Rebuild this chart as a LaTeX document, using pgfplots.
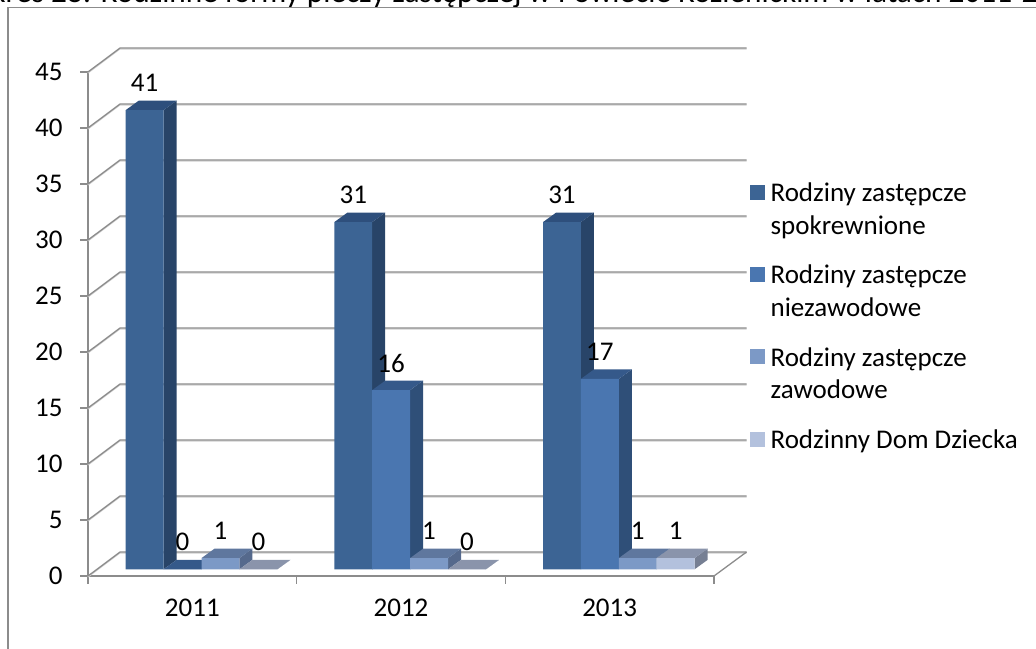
\documentclass[border=0pt]{standalone}
\usepackage{pgfplots}
\usepackage{fontspec}
\pgfplotsset{compat=1.18}
\setmainfont{Carlito}

\definecolor{gridc}{HTML}{8C8C8C}
\definecolor{gridl}{HTML}{D0D0D0}
\definecolor{fa}{HTML}{3C6494}\definecolor{sa}{HTML}{284468}\definecolor{ta}{HTML}{2E4F7C}
\definecolor{fb}{HTML}{4A76B0}\definecolor{sb}{HTML}{2F4F78}\definecolor{tb}{HTML}{35598A}
\definecolor{fc}{HTML}{7C99C6}\definecolor{sc}{HTML}{55698C}\definecolor{tc}{HTML}{5F779E}
\definecolor{fd}{HTML}{B3C1DD}\definecolor{sd}{HTML}{767F93}\definecolor{td}{HTML}{8A94AB}

% side and top face of one bar: left edge (px), value, side colour, top colour
\newcommand\faces[4]{%
  \pgfmathsetmacro\xr{#1+37.9}\pgfmathsetmacro\xrb{#1+50.9}\pgfmathsetmacro\xb{#1+13}%
  \pgfmathsetmacro\vb{#2+0.84}%
  \edef\tmp{\noexpand\addplot[forget plot,fill=#3,draw=none] coordinates {(\xr,0) (\xrb,0.84) (\xrb,\vb) (\xr,#2)};
    \noexpand\addplot[forget plot,fill=#4,draw=none] coordinates {(#1,#2) (\xb,\vb) (\xrb,\vb) (\xr,#2)};}%
  \tmp}

\pgfplotsset{
  bars/.style={ybar,bar shift=0pt,bar width=37.9,fill=#1,draw=none,
    legend image code/.code={\fill[#1] (0bp,-7bp) rectangle (15bp,8bp);},
    nodes near coords,
    every node near coord/.style={anchor=center,yshift=27bp,text=black,font=\fontsize{27bp}{29bp}\selectfont}},
}

\begin{document}
\begin{tikzpicture}[x=1bp,y=1bp]
\useasboundingbox (0,0) rectangle (1036,649);
% title cut by the page edge
\node[anchor=base west,inner sep=0,font=\fontsize{31.3bp}{34bp}\selectfont] at (-50,646.3)
  {Wykres 28: Rodzinne formy pieczy zastępczej w Powiecie Kozienickim w latach 2011-2013};
% chart frame
\draw[gridc,line width=1.3bp] (8,0) -- (8,641.5) -- (1036,641.5);

% walls and axes
\begin{axis}[
  at={(88bp,73bp)},anchor=south west,
  scale only axis,width=626bp,height=504bp,
  xmin=88,xmax=714,ymin=0,ymax=45,
  clip=false,
  axis x line=bottom,axis y line=left,
  axis line style={-,gridc,line width=1.3bp},
  tick style={gridc,line width=1.3bp},
  tick align=outside,
  major tick length=8bp,
  xtick={88,296.67,505.33,714},
  xticklabels={2011,2012,2013},
  x tick label as interval,
  ytick={0,5,...,45},
  /pgf/number format/assume math mode=true,
  tick label style={font=\fontsize{27bp}{29bp}\selectfont},
  yticklabel style={xshift=-14bp},
  xticklabel style={yshift=-11bp},
]
\pgfplotsinvokeforeach{0,5,...,45}{
  \draw[gridl,line width=1.2bp] (axis cs:88,#1-0.08) -- (axis cs:120,#1+2.06) -- (axis cs:746.5,#1+2.06);
  \draw[gridc,line width=1.3bp] (axis cs:88,#1) -- (axis cs:120,#1+2.14) -- (axis cs:746.5,#1+2.14);
}
\draw[gridc,line width=1.3bp] (axis cs:714,0) -- (axis cs:746.5,2.14);
\end{axis}

% bars, with their foot on the floor
\begin{axis}[
  at={(88bp,79.7bp)},anchor=south west,
  scale only axis,width=626bp,height=504bp,
  xmin=88,xmax=714,ymin=0,ymax=45,
  clip=false,hide axis,
  /pgf/number format/assume math mode=true,
  legend cell align=left,
  legend style={at={(1.0566,0.771)},anchor=north west,draw=none,fill=none,inner sep=0pt,
    row sep=58bp,column sep=4bp,font=\fontsize{27bp}{32.7bp}\selectfont},
]
\faces{125.7}{41}{sa}{ta}\faces{334.3}{31}{sa}{ta}\faces{543.0}{31}{sa}{ta}
\addplot[bars=fa] coordinates {(144.65,41) (353.25,31) (561.95,31)};
\addlegendentry{\parbox[t]{290bp}{Rodziny zastępcze\\spokrewnione}}

\faces{163.6}{0}{sb}{tb}\faces{372.2}{16}{sb}{tb}\faces{580.9}{17}{sb}{tb}
\addplot[bars=fb] coordinates {(182.55,0) (391.15,16) (599.85,17)};
\addlegendentry{\parbox[t]{290bp}{Rodziny zastępcze\\niezawodowe}}

\faces{201.5}{1}{sc}{tc}\faces{410.1}{1}{sc}{tc}\faces{618.8}{1}{sc}{tc}
\addplot[bars=fc] coordinates {(220.45,1) (429.05,1) (637.75,1)};
\addlegendentry{\parbox[t]{290bp}{Rodziny zastępcze\\zawodowe}}

\faces{239.4}{0}{sd}{td}\faces{448.0}{0}{sd}{td}\faces{656.7}{1}{sd}{td}
\addplot[bars=fd] coordinates {(258.35,0) (466.95,0) (675.65,1)};
\addlegendentry{\parbox[t]{290bp}{Rodzinny Dom Dziecka}}
\end{axis}
\end{tikzpicture}
\end{document}
